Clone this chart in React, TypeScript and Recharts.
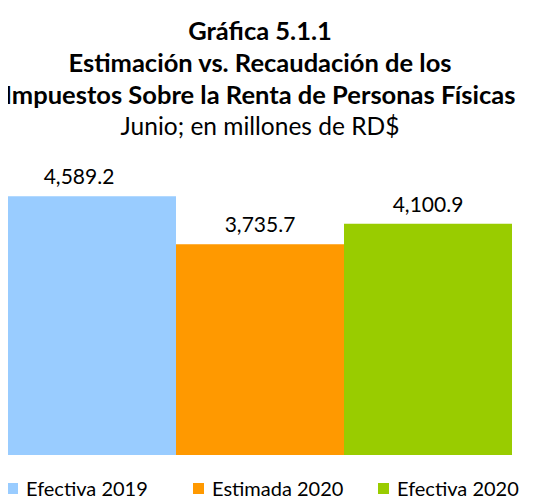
import React from "react";
import { BarChart, Bar, XAxis, YAxis, LabelList } from "recharts";

const titleLines = [
  "Gráfica 5.1.1",
  "Estimación vs. Recaudación de los",
  "Impuestos Sobre la Renta de Personas Físicas",
];
const subtitle = "Junio; en millones de RD$";
const seriesNames = ["Efectiva 2019", "Estimada 2020", "Efectiva 2020"];
const seriesKeys = ["ef2019", "est2020", "ef2020"];
const seriesValues = [4589.2, 3735.7, 4100.9];
const seriesColors = ["#99CCFF", "#FF9900", "#99CC00"];
const categories = ["Junio"];

const data = categories.map((c) => {
  const row: Record<string, any> = { name: c };
  seriesKeys.forEach((k, i) => (row[k] = seriesValues[i]));
  return row;
});

const FONT = "Lato, 'Open Sans', sans-serif";

const fmt = (v: number) =>
  v.toLocaleString("en-US", { minimumFractionDigits: 1, maximumFractionDigits: 1 });

export default function App() {
  return (
    <div style={{ width: 504, fontFamily: FONT, color: "#000" }}>
      <div style={{ marginTop: 6, textAlign: "center", lineHeight: "32px", whiteSpace: "nowrap" }}>
        {titleLines.map((t) => (
          <div key={t} style={{ fontWeight: 700, fontSize: 25.5, marginLeft: -30, marginRight: -30 }}>
            {t}
          </div>
        ))}
        <div style={{ fontSize: 24.5 }}>{subtitle}</div>
      </div>
      <BarChart
        width={504}
        height={313}
        data={data}
        margin={{ top: 31, right: 0, bottom: 0, left: 0 }}
        barGap={0}
        barCategoryGap={0}
      >
        <XAxis dataKey="name" hide />
        <YAxis hide domain={[0, 5000]} />
        {seriesKeys.map((k, i) => (
          <Bar key={k} dataKey={k} name={seriesNames[i]} fill={seriesColors[i]} isAnimationActive={false}>
            <LabelList
              dataKey={k}
              position="top"
              offset={12}
              formatter={(v: any) => fmt(Number(v))}
              style={{ fontFamily: FONT, fontSize: 21, fill: "#000" }}
              dx={i === 0 ? -13 : 0}
            />
          </Bar>
        ))}
      </BarChart>
      <div
        style={{
          marginTop: 23,
          height: 20,
          lineHeight: "20px",
          fontSize: 20,
          display: "flex",
          whiteSpace: "nowrap",
          position: "relative",
        }}
      >
        {seriesNames.map((n, i) => (
          <div
            key={n}
            style={{
              position: "absolute",
              left: [-1, 185, 370][i],
              display: "flex",
              alignItems: "center",
            }}
          >
            <span
              style={{
                display: "inline-block",
                width: 11,
                height: 11,
                background: seriesColors[i],
                marginRight: 8,
              }}
            />
            <span>{n}</span>
          </div>
        ))}
      </div>
    </div>
  );
}
